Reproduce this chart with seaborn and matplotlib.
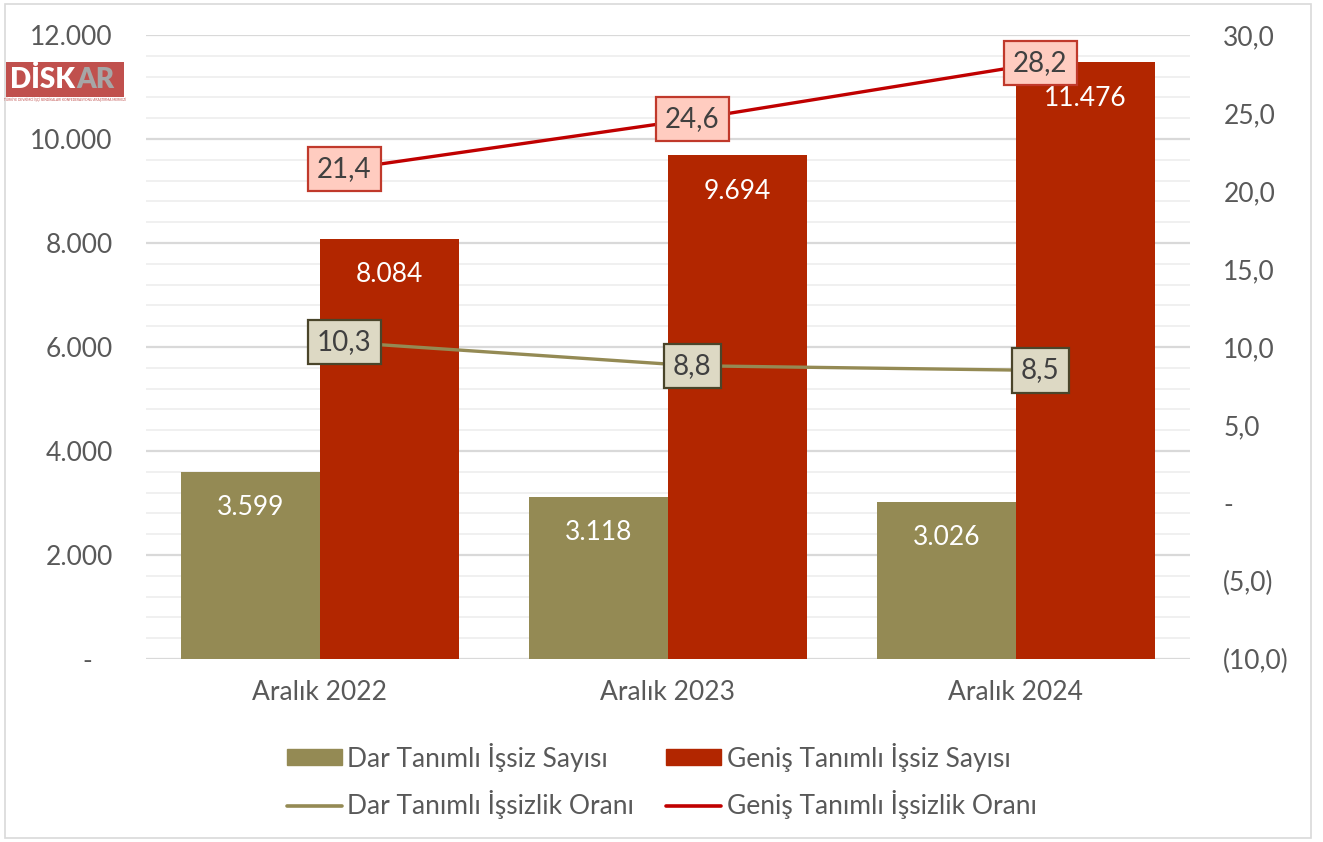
import numpy as np
import pandas as pd
import seaborn as sns
import matplotlib.pyplot as plt
from matplotlib.patches import Rectangle, Patch
from matplotlib.lines import Line2D
from matplotlib.ticker import MultipleLocator, FixedLocator

periods = ["Aralık 2022", "Aralık 2023", "Aralık 2024"]
dar_sayi = [3599, 3118, 3026]
genis_sayi = [8084, 9694, 11476]
dar_oran = [10.3, 8.8, 8.5]
genis_oran = [21.4, 24.6, 28.2]

bar_names = ["Dar Tanımlı İşsiz Sayısı", "Geniş Tanımlı İşsiz Sayısı"]
line_names = ["Dar Tanımlı İşsizlik Oranı", "Geniş Tanımlı İşsizlik Oranı"]

left_ticks = [0, 2000, 4000, 6000, 8000, 10000, 12000]
right_ticks = [-10, -5, 0, 5, 10, 15, 20, 25, 30]

tan = "#948A54"
bar_red = "#B22600"
line_red = "#C00000"
grey_txt = "#595959"
fs = 19

sns.set_theme(style="white")
plt.rcParams["font.family"] = ["Lato", "DejaVu Sans"]


def tr_int(v):
    return "-   " if v == 0 else f"{int(v):,}".replace(",", ".")


def tr_pct(v):
    if v == 0:
        return "-"
    s = f"{abs(v):.1f}".replace(".", ",")
    return f"({s})" if v < 0 else s


df = pd.DataFrame({
    "period": periods * 2,
    "series": [bar_names[0]] * 3 + [bar_names[1]] * 3,
    "value": dar_sayi + genis_sayi,
})

fig = plt.figure(figsize=(13.23, 8.42), dpi=100)
ax = fig.add_axes([146 / 1323, 1 - 659 / 842, (1190 - 146) / 1323, (659 - 35) / 842])

sns.barplot(data=df, x="period", y="value", hue="series", palette=[tan, bar_red],
            width=0.8, saturation=1, legend=False, linewidth=0, ax=ax, zorder=2)

ax.set_xlim(-0.5, 2.5)
ax.set_ylim(0, 12000)
ax.yaxis.set_major_locator(FixedLocator(left_ticks))
ax.yaxis.set_minor_locator(MultipleLocator(400))
ax.set_yticklabels([tr_int(v) for v in left_ticks])
ax.grid(which="major", axis="y", color="#d9d9d9", lw=1.6, zorder=0)
ax.grid(which="minor", axis="y", color="#f0f0f0", lw=1.4, zorder=0)
ax.set_axisbelow(True)
for s in ax.spines.values():
    s.set_visible(False)
ax.set_xlabel("")
ax.set_ylabel("")
ax.tick_params(axis="y", which="both", length=0, pad=24, labelsize=fs, labelcolor=grey_txt)
ax.tick_params(axis="x", length=0, pad=15, labelsize=fs, labelcolor=grey_txt)

for cont in ax.containers:
    ax.bar_label(cont, labels=[tr_int(v) for v in cont.datavalues], padding=-35,
                 color="white", fontsize=fs)

ax2 = ax.twinx()
xpos = np.arange(len(periods)) + 0.07
sns.lineplot(x=xpos, y=dar_oran, color=tan, lw=2.4, ax=ax2, zorder=3)
sns.lineplot(x=xpos, y=genis_oran, color=line_red, lw=2.4, ax=ax2, zorder=3)
ax2.set_ylim(-10, 30)
ax2.set_xlim(-0.5, 2.5)
ax2.yaxis.set_major_locator(FixedLocator(right_ticks))
ax2.set_yticklabels([tr_pct(v) for v in right_ticks])
ax2.tick_params(axis="y", length=0, pad=24, labelsize=fs, labelcolor=grey_txt)
for s in ax2.spines.values():
    s.set_visible(False)
ax2.grid(False)

for xs, vals, face, edge in [(xpos, dar_oran, "#DDD9C4", "#4A452A"),
                             (xpos, genis_oran, "#FFCCC0", "#C0392B")]:
    for x, v in zip(xs, vals):
        ax2.text(x, v, f"{v:.1f}".replace(".", ","), ha="center", va="center",
                 fontsize=fs + 1, color="#404040", zorder=5,
                 bbox=dict(boxstyle="square,pad=0.33", fc=face, ec=edge, lw=1.6))

handles = [Patch(color=tan), Line2D([], [], color=tan, lw=2.6),
           Patch(color=bar_red), Line2D([], [], color=line_red, lw=2.6)]
labels = [bar_names[0], line_names[0], bar_names[1], line_names[1]]
fig.legend(handles, labels, ncol=2, loc="center", bbox_to_anchor=(0.5, 1 - 781 / 842),
           frameon=False, fontsize=fs, labelcolor=grey_txt, handlelength=2.1,
           handleheight=0.55, handletextpad=0.2, columnspacing=1.2, labelspacing=0.7)

# logo
fig.patches.append(Rectangle((6 / 1323, 1 - 97 / 842), 118 / 1323, 35 / 842,
                             transform=fig.transFigure, fc="#C0504D", ec="none"))
fig.text(10 / 1323, 1 - 80 / 842, "DİSK", color="white", fontsize=20, fontweight="heavy",
         va="center")
fig.text(76 / 1323, 1 - 80 / 842, "AR", color="#A6A6A6", fontsize=20, fontweight="heavy",
         va="center")
fig.text(65 / 1323, 1 - 100 / 842, "TÜRKİYE DEVRİMCİ İŞÇİ SENDİKALARI KONFEDERASYONU ARAŞTIRMA MERKEZİ",
         color="#C0504D", fontsize=2.3, ha="center", va="center")

fig.patches.append(Rectangle((5 / 1323, 4 / 842), 1306 / 1323, 834 / 842,
                             transform=fig.transFigure, fc="none", ec="#d9d9d9", lw=1.2))

fig.savefig("out.png", dpi=100)
